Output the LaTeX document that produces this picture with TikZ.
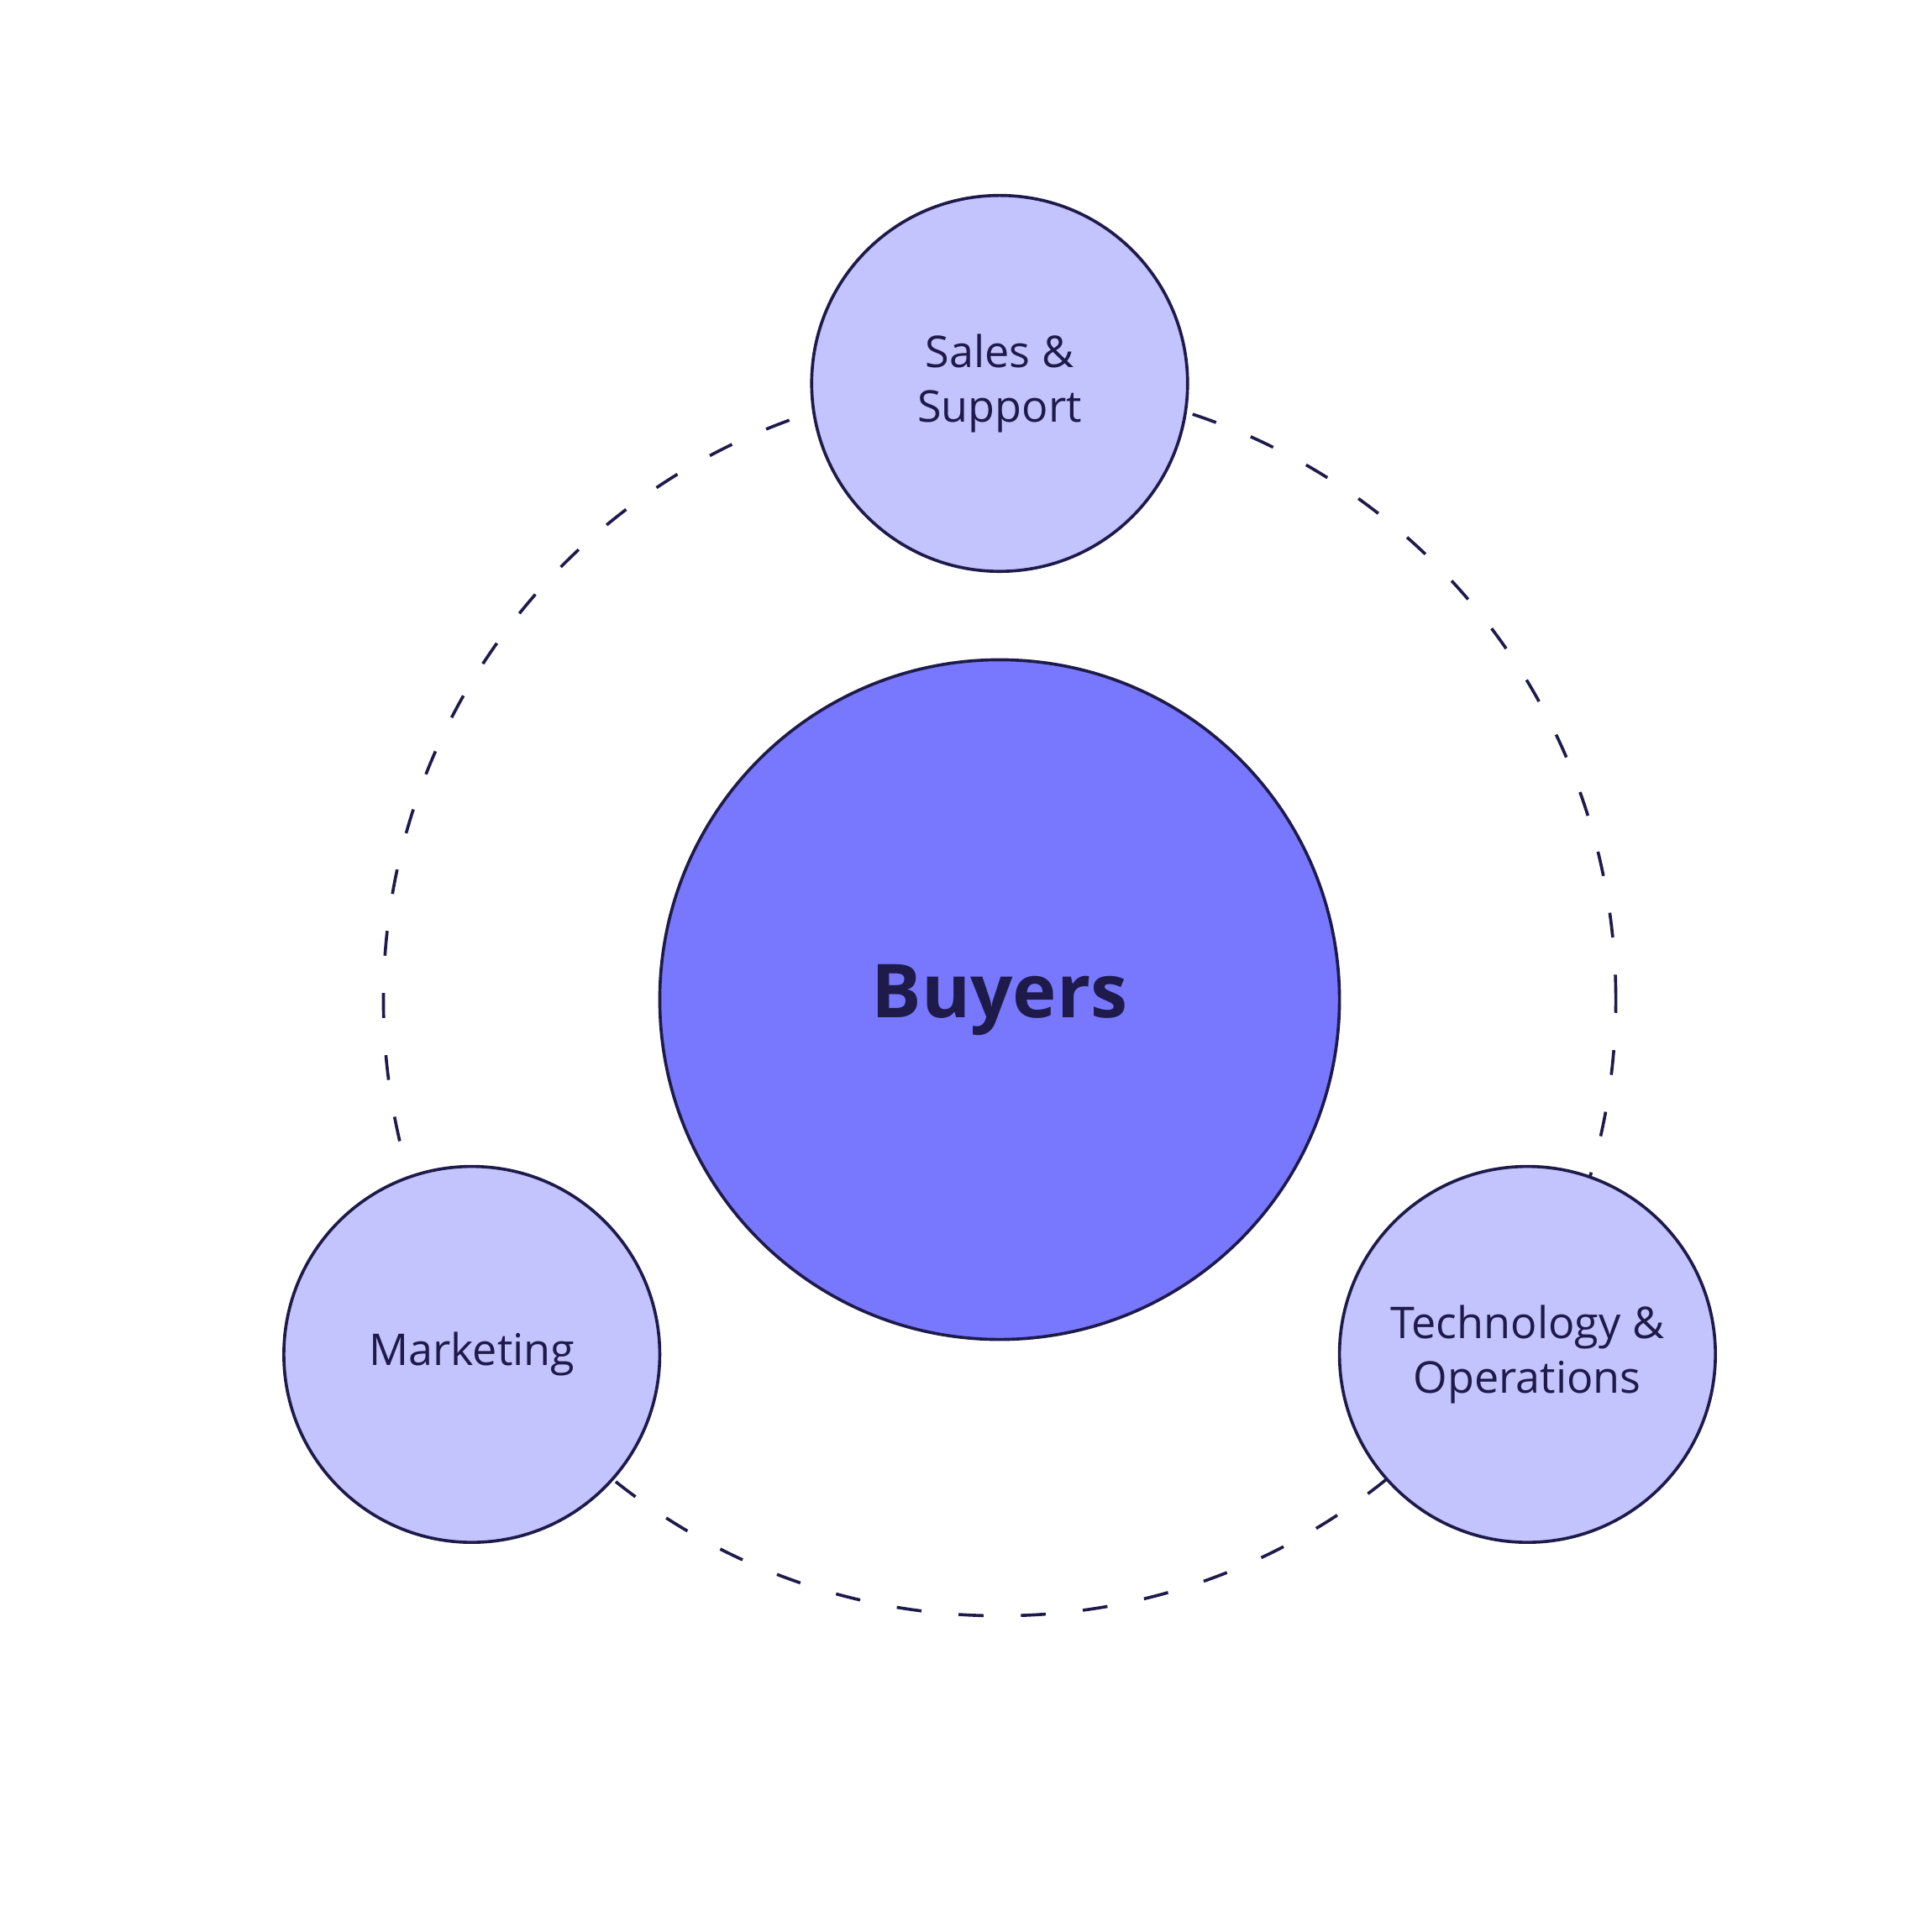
\documentclass[tikz,border=0pt]{standalone}
\usepackage{fontspec}
\setmainfont{Open Sans}
\definecolor{ink}{HTML}{1E1B4B}
\definecolor{mainfill}{HTML}{7878FF}
\definecolor{subfill}{HTML}{C3C3FD}
\begin{document}
\begin{tikzpicture}[x=0.01cm,y=-0.01cm,
  sub/.style={circle,draw=ink,line width=0.7pt,fill=subfill,minimum size=302*0.01cm,inner sep=0pt,align=center,text=ink,font=\fontsize{10}{12.5}\selectfont},
  hub/.style={circle,draw=ink,line width=0.7pt,fill=mainfill,minimum size=546*0.01cm,inner sep=0pt,text=ink,font=\fontsize{17}{20}\selectfont\bfseries}]
\useasboundingbox (0,0) rectangle (1552,1552);
\coordinate (c) at (803,803);
\draw[ink,line width=0.7pt,dash pattern=on 20*0.01cm off 30*0.01cm] (c) circle (495*0.01cm);
\node[hub] (buyers) at (c) {Buyers};
\node[sub] (sales) at (803,308) {Sales \&\\Support};
\node[sub] (mkt) at (379,1088) {Marketing};
\node[sub] (tech) at (1227,1088) {Technology \&\\Operations};
\end{tikzpicture}
\end{document}
